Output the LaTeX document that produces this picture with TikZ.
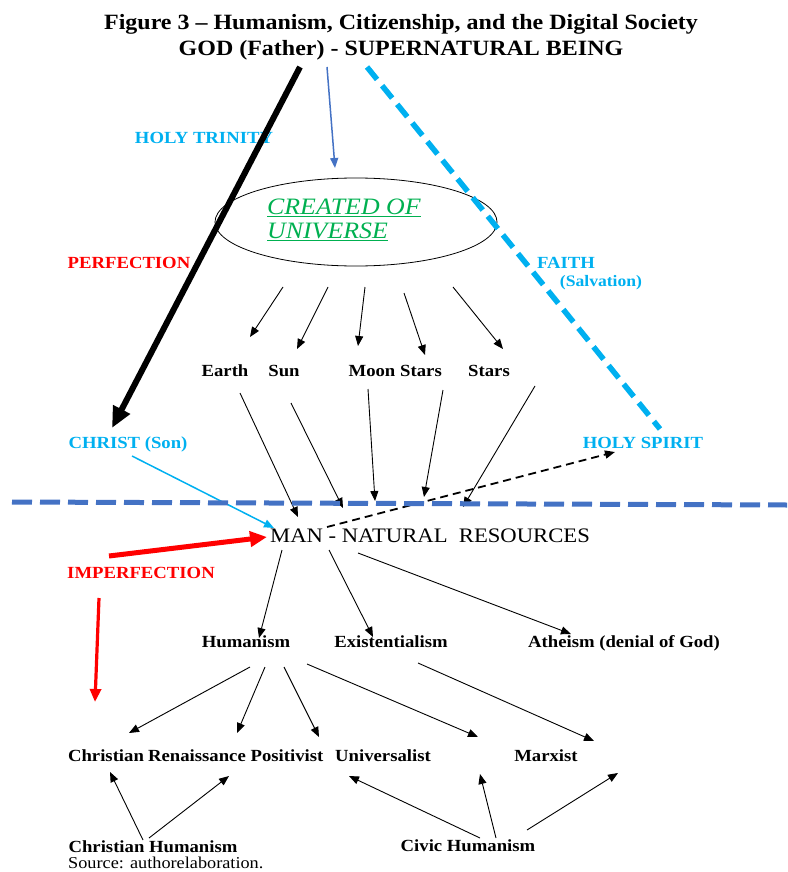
\documentclass[tikz,border=0pt]{standalone}
\usepackage{fontspec}
\setmainfont{Liberation Serif}[FakeStretch=1.1]
\usepackage{xcolor}
\usepackage{tikz}
\usetikzlibrary{shapes.geometric, arrows.meta, positioning}

\definecolor{trinityblue}{RGB}{0,176,240}
\definecolor{divblue}{RGB}{68,114,196}
\definecolor{univgreen}{RGB}{0,176,80}
\newcommand{\greenul}[1]{\setbox0\hbox{#1}\rlap{\rule[-2.5pt]{\wd0}{1.2pt}}\box0}

\begin{document}
\begin{tikzpicture}[
        x=1pt, y=-1pt,
        word/.style={anchor=base, inner sep=0pt, font=\fontsize{17}{20}\selectfont\bfseries},
        titletext/.style={anchor=base, inner sep=0pt, font=\fontsize{21.8}{26}\selectfont\bfseries},
        blueword/.style={word, text=trinityblue},
        redword/.style={word, text=red},
        arrow/.style={-{Triangle[length=10pt,width=8pt]}, line width=0.9pt},
        blackarrow/.style={-{Triangle[length=21pt,width=18pt]}, line width=6pt},
        redarrow/.style={-{Triangle[length=17pt,width=15pt]}, line width=5pt, red},
        reddown/.style={-{Triangle[length=13pt,width=11pt]}, line width=3.2pt, red},
        faithline/.style={trinityblue, line width=5.5pt, dash pattern=on 16pt off 8pt},
        divider/.style={divblue, line width=5pt, dash pattern=on 20pt off 8pt},
        spiritarrow/.style={arrow, line width=1.8pt, dash pattern=on 8pt off 5pt}
    ]
    \useasboundingbox (0,0) rectangle (787,872);

    \node[titletext] (title) at (401,30) {Figure 3 – Humanism, Citizenship, and the Digital Society};
    \node[titletext] (god) at (401,56) {GOD (Father) - SUPERNATURAL BEING};

    \node[blueword] (trinity) at (204,143) {HOLY TRINITY};
    \node[redword] (perfection) at (129,268) {PERFECTION};
    \node[blueword] (faith) at (566,268) {FAITH};
    \node[blueword, font=\fontsize{16}{19}\selectfont\bfseries] (salvation) at (601,286) {(Salvation)};

    \node[draw, ellipse, minimum width=282pt, minimum height=88pt, inner sep=0pt, line width=0.8pt] (univ) at (356,222) {};
    \node[anchor=north west, inner sep=0pt, align=left, text=univgreen,
          font=\fontsize{23.5}{24}\selectfont\itshape] (univtext) at (267,199) {\greenul{CREATED OF}\\\greenul{UNIVERSE}};

    \node[word] (earth) at (225,376) {Earth};
    \node[word] (sun) at (284,376) {Sun};
    \node[word] (moon) at (372,376) {Moon};
    \node[word] (stars) at (421,376) {Stars};
    \node[word] (starsb) at (489,376) {Stars};

    \node[blueword] (christ) at (128,448) {CHRIST (Son)};
    \node[blueword] (spirit) at (643,448) {HOLY SPIRIT};

    \node[anchor=base, inner sep=0pt, font=\fontsize{20.6}{24}\selectfont] (man) at (430,542) {MAN - NATURAL~ RESOURCES};
    \node[redword] (imperf) at (141,578) {IMPERFECTION};

    \node[word] (humanism) at (246,647) {Humanism};
    \node[word] (exist) at (391,647) {Existentialism};
    \node[word] (atheism) at (624,647) {Atheism (denial of God)};

    \node[word] (christian) at (106,761) {Christian};
    \node[word] (renais) at (197,761) {Renaissance};
    \node[word] (positivist) at (287,761) {Positivist};
    \node[word] (universalist) at (383,761) {Universalist};
    \node[word] (marxist) at (546,761) {Marxist};

    \node[word] (chumanism) at (153,852) {Christian Humanism};
    \node[word] (civic) at (468,851) {Civic Humanism};
    \node[anchor=base west, inner sep=0pt, font=\fontsize{16.6}{20}\selectfont] (source) at (68,868) {Source: authorelaboration.};

    % from GOD
    \draw[blackarrow] ([shift={(-101,11)}]god.base) -- ([shift={(-16,-20)}]christ.base);
    \draw[arrow, divblue, line width=1.5pt] ([shift={(-74,11)}]god.base) -- ([shift={(-21,-54)}]univ.center);
    \draw[faithline] ([shift={(-34,11)}]god.base) -- ([shift={(17,-19)}]spirit.base);

    % universe to the bodies
    \draw[arrow] ([shift={(-73,65)}]univ.center) -- ([shift={(25,-39)}]earth.base);
    \draw[arrow] ([shift={(-28,65)}]univ.center) -- ([shift={(13,-27)}]sun.base);
    \draw[arrow] ([shift={(9,65)}]univ.center) -- ([shift={(-14,-30)}]moon.base);
    \draw[arrow] ([shift={(48,71)}]univ.center) -- ([shift={(4,-21)}]stars.base);
    \draw[arrow] ([shift={(97,65)}]univ.center) -- ([shift={(14,-27)}]starsb.base);

    % bodies to man
    \draw[arrow] ([shift={(15,17)}]earth.base) -- ([shift={(-132,-25)}]man.base);
    \draw[arrow] ([shift={(7,27)}]sun.base) -- ([shift={(-87,-34)}]man.base);
    \draw[arrow] ([shift={(-4,13)}]moon.base) -- ([shift={(-55,-41)}]man.base);
    \draw[arrow] ([shift={(22,14)}]stars.base) -- ([shift={(-6,-45)}]man.base);
    \draw[arrow] ([shift={(46,10)}]starsb.base) -- ([shift={(33,-35)}]man.base);

    % christ and spirit
    \draw[arrow, trinityblue, line width=1.5pt] ([shift={(4,8)}]christ.base) -- ([shift={(-156,-14)}]man.base);
    \draw[spiritarrow] ([shift={(-103,-15)}]man.base) -- ([shift={(-28,4)}]spirit.base);

    % divider
    \coordinate (divl) at (12,502);
    \coordinate (divr) at (787,505);
    \draw[divider] (divl) -- (divr);

    % imperfection
    \draw[redarrow] ([shift={(-32,-22)}]imperf.base) -- ([shift={(-163,-5)}]man.base);
    \draw[reddown] ([shift={(-42,20)}]imperf.base) -- ([shift={(-11,-59)}]christian.base);

    % man down
    \draw[arrow] ([shift={(-148,8)}]man.base) -- ([shift={(13,-9)}]humanism.base);
    \draw[arrow] ([shift={(-101,8)}]man.base) -- ([shift={(-18,-10)}]exist.base);
    \draw[arrow] ([shift={(-72,11)}]man.base) -- ([shift={(-53,-13)}]atheism.base);

    % humanism down
    \draw[arrow] ([shift={(4,20)}]humanism.base) -- ([shift={(23,-28)}]christian.base);
    \draw[arrow] ([shift={(19,20)}]humanism.base) -- ([shift={(40,-28)}]renais.base);
    \draw[arrow] ([shift={(38,20)}]humanism.base) -- ([shift={(32,-24)}]positivist.base);
    \draw[arrow] ([shift={(61,17)}]humanism.base) -- ([shift={(95,-24)}]universalist.base);
    \draw[arrow] ([shift={(27,16)}]exist.base) -- ([shift={(48,-20)}]marxist.base);

    % bottom row up
    \draw[arrow] ([shift={(-10,-12)}]chumanism.base) -- ([shift={(4,11)}]christian.base);
    \draw[arrow] ([shift={(-4,-14)}]chumanism.base) -- ([shift={(32,15)}]renais.base);
    \draw[arrow] ([shift={(12,-13)}]civic.base) -- ([shift={(-34,15)}]universalist.base);
    \draw[arrow] ([shift={(28,-13)}]civic.base) -- ([shift={(97,13)}]universalist.base);
    \draw[arrow] ([shift={(59,-21)}]civic.base) -- ([shift={(72,12)}]marxist.base);
\end{tikzpicture}
\end{document}
